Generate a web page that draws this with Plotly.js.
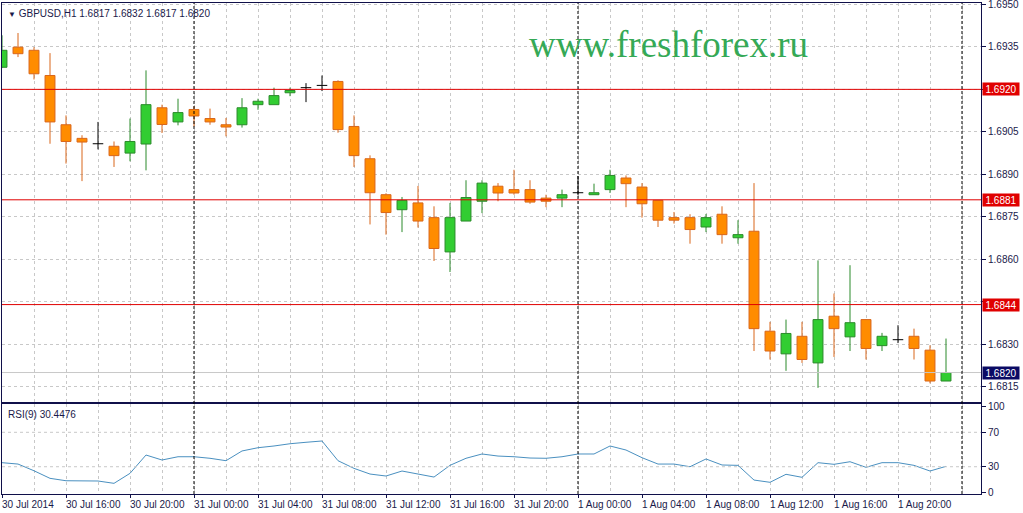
<!DOCTYPE html>
<html><head><meta charset="utf-8">
<script src="https://cdn.plot.ly/plotly-3.0.1.min.js"></script>
<style>html,body{margin:0;padding:0;background:#fff}#chart{width:1023px;height:513px}</style>
</head><body><div id="chart"></div>
<script>
const symbol = "GBPUSD,H1";
const openP  = [1.69278,1.69349,1.69338,1.69249,1.69075,1.69027,1.69008,1.68999,1.68975,1.69007,
                1.69135,1.69085,1.69129,1.69097,1.69075,1.69075,1.69146,1.69146,1.69188,1.69206,
                1.69214,1.69228,1.69069,1.68955,1.68828,1.68775,1.68799,1.68747,1.68626,1.68735,
                1.68805,1.68858,1.68846,1.68846,1.68816,1.68816,1.68835,1.68828,1.68846,1.68887,
                1.68855,1.68808,1.68747,1.68747,1.68714,1.68759,1.68676,1.68699,1.68346,1.68266,
                1.68328,1.68234,1.68399,1.68326,1.68387,1.68295,1.68316,1.68328,1.68279,1.68170];
const highP  = [1.69391,1.69399,1.69349,1.69328,1.69108,1.69038,1.69085,1.69016,1.69097,1.69267,
                1.69146,1.69167,1.69140,1.69132,1.69099,1.69169,1.69167,1.69206,1.69206,1.69222,
                1.69249,1.69232,1.69108,1.68967,1.68833,1.68820,1.68859,1.68787,1.68799,1.68879,
                1.68879,1.68869,1.68916,1.68879,1.68828,1.68846,1.68894,1.68867,1.68916,1.68896,
                1.68869,1.68808,1.68767,1.68759,1.68760,1.68787,1.68738,1.68869,1.68379,1.68387,
                1.68379,1.68596,1.68479,1.68579,1.68388,1.68340,1.68367,1.68355,1.68296,1.68320];
const lowP   = [1.69275,1.69314,1.69235,1.69008,1.68938,1.68876,1.68988,1.68926,1.68946,1.68914,
                1.69046,1.69073,1.69069,1.69075,1.69034,1.69065,1.69128,1.69146,1.69176,1.69155,
                1.69194,1.69047,1.68926,1.68723,1.68687,1.68696,1.68712,1.68594,1.68555,1.68735,
                1.68763,1.68805,1.68828,1.68796,1.68784,1.68784,1.68826,1.68828,1.68834,1.68784,
                1.68747,1.68714,1.68726,1.68655,1.68696,1.68655,1.68655,1.68276,1.68246,1.68206,
                1.68234,1.68146,1.68255,1.68276,1.68246,1.68276,1.68304,1.68246,1.68162,1.68170];
const closeP = [1.69338,1.69326,1.69255,1.69085,1.69016,1.69014,1.69008,1.68966,1.69016,1.69146,
                1.69076,1.69118,1.69106,1.69085,1.69067,1.69135,1.69158,1.69178,1.69196,1.69206,
                1.69214,1.69058,1.68966,1.68835,1.68765,1.68808,1.68735,1.68638,1.68747,1.68818,
                1.68869,1.68834,1.68834,1.68802,1.68805,1.68828,1.68835,1.68835,1.68896,1.68867,
                1.68796,1.68738,1.68738,1.68705,1.68747,1.68687,1.68687,1.68355,1.68276,1.68338,
                1.68246,1.68387,1.68355,1.68376,1.68285,1.68328,1.68316,1.68285,1.68170,1.68200];
const rsi9   = [34.7,33.1,25.3,16.5,13.7,13.4,13.4,10.7,22.3,43.6,
                37.8,41.6,41.6,39.8,37.0,48.3,52.1,54.1,56.7,58.4,
                59.9,37.0,28.1,21.5,19.2,25.0,21.5,18.0,31.6,39.8,
                44.8,42.4,41.6,40.1,39.8,41.6,44.8,44.8,54.1,49.4,
                40.5,33.1,33.1,30.0,39.0,32.0,31.6,14.5,11.9,21.2,
                17.7,34.7,32.8,35.8,29.3,34.7,34.7,31.6,25.0,30.4476];
const xLabelIdx = [0,4,8,12,16,20,24,28,32,36,40,44,48,52,56];
const xLabels = ["30 Jul 2014","30 Jul 16:00","30 Jul 20:00","31 Jul 00:00","31 Jul 04:00","31 Jul 08:00",
                 "31 Jul 12:00","31 Jul 16:00","31 Jul 20:00","1 Aug 00:00","1 Aug 04:00","1 Aug 08:00",
                 "1 Aug 12:00","1 Aug 16:00","1 Aug 20:00"];
const gridIdx = [2,6,10,14,18,22,26,30,34,38,42,46,50,54,58,60];
const daySeparators = [12,36,60];
const levels = [1.6920, 1.6881, 1.6844];
const priceTicks = [1.6815,1.6830,1.6845,1.6860,1.6875,1.6890,1.6905,1.6920,1.6935,1.6950];
const rsiTicks = [0,30,70,100];
const rsiLevels = [30,70];
const rsiLabel = "RSI(9) 30.4476";

const NAVY = '#10104a', GRID = '#c8c8c8';
const idx = openP.map((_, i) => i);
const n = openP.length;
const last = n - 1;
const bid = closeP[last];

const bull = {x:[], base:[], y:[]}, bear = {x:[], base:[], y:[]};
const bullW = {x:[], y:[]}, bearW = {x:[], y:[]}, doji = {x:[], y:[]};
const halfW = 0.33;
idx.forEach(i => {
  const o = openP[i], c = closeP[i], h = highP[i], l = lowP[i];
  if (o === c) {
    doji.x.push(i, i, null, i - halfW, i + halfW, null);
    doji.y.push(l, h, null, o, o, null);
    return;
  }
  const top = Math.max(o, c), bot = Math.min(o, c);
  const tgt = c > o ? bull : bear, w = c > o ? bullW : bearW;
  tgt.x.push(i); tgt.base.push(bot); tgt.y.push(top - bot);
  if (h > top) { w.x.push(i, i, null); w.y.push(top, h, null); }
  if (l < bot) { w.x.push(i, i, null); w.y.push(l, bot, null); }
});

const traces = [
  {type:'scatter', mode:'lines', x:bullW.x, y:bullW.y, line:{color:'#2a8a2a', width:1}, hoverinfo:'skip', xaxis:'x', yaxis:'y'},
  {type:'scatter', mode:'lines', x:bearW.x, y:bearW.y, line:{color:'#d9661a', width:1}, hoverinfo:'skip', xaxis:'x', yaxis:'y'},
  {type:'bar', x:bull.x, base:bull.base, y:bull.y, width:0.62, marker:{color:'#32cd32', line:{color:'#2a8a2a', width:1}}, xaxis:'x', yaxis:'y'},
  {type:'bar', x:bear.x, base:bear.base, y:bear.y, width:0.62, marker:{color:'#ff8c00', line:{color:'#d9661a', width:1}}, xaxis:'x', yaxis:'y'},
  {type:'scatter', mode:'lines', x:doji.x, y:doji.y, line:{color:'#000', width:1}, hoverinfo:'skip', xaxis:'x', yaxis:'y'},
  {type:'scatter', mode:'lines', x:idx, y:rsi9, line:{color:'#4a90c0', width:1}, xaxis:'x2', yaxis:'y2'}
];

const xr = [0, 979/16];
const baseX = {
  range: xr, showticklabels:false, showgrid:true, gridcolor:GRID, gridwidth:1, griddash:'3px,3px',
  tickvals: xLabelIdx, zeroline:false, showline:true, mirror:true, linecolor:NAVY, linewidth:1,
  minor:{tickvals:gridIdx, showgrid:true, gridcolor:GRID, gridwidth:1, griddash:'3px,3px', ticks:''},
  fixedrange:true
};
const levelFar = v => levels.concat([bid]).some(l => Math.abs(l - v) < 0.0002);
const layout = {
  width:1023, height:513,
  margin:{l:2, r:42, t:3, b:19, pad:0},
  paper_bgcolor:'#fff', plot_bgcolor:'#fff', showlegend:false, barmode:'overlay',
  font:{family:'Liberation Sans, Arial, sans-serif', size:10, color:'#1a1a4a'},
  xaxis: Object.assign({}, baseX, {domain:[0,1], anchor:'y', ticks:''}),
  xaxis2: Object.assign({}, baseX, {domain:[0,1], anchor:'y2', matches:'x', ticks:'outside', ticklen:3, tickcolor:NAVY}),
  yaxis:{domain:[0.1874,1], anchor:'x', side:'right', range:[1.68096,1.69505], tickvals:priceTicks,
         ticktext:priceTicks.map(v => levelFar(v) ? '' : v.toFixed(4)), ticklabeloverflow:'allow',
         ticks:'outside', ticklen:4, tickcolor:NAVY, showgrid:true, gridcolor:GRID, griddash:'3px,3px',
         zeroline:false, showline:true, mirror:true, linecolor:NAVY, linewidth:1, fixedrange:true},
  yaxis2:{domain:[0,0.1833], anchor:'x2', side:'right', range:[-1.7,102.9], tickvals:rsiTicks, ticklabeloverflow:'allow',
          ticks:'outside', ticklen:4, tickcolor:NAVY, showgrid:false, zeroline:false,
          showline:true, mirror:true, linecolor:NAVY, linewidth:1, fixedrange:true},
  shapes: [], annotations: []
};
levels.forEach(v => layout.shapes.push({type:'line', xref:'x domain', x0:0, x1:1, yref:'y', y0:v, y1:v, line:{color:'#e00000', width:1}}));
layout.shapes.push({type:'line', xref:'x domain', x0:0, x1:1, yref:'y', y0:bid, y1:bid, line:{color:'#c8c8c8', width:1}});
rsiLevels.forEach(v => layout.shapes.push({type:'line', xref:'x2 domain', x0:0, x1:1, yref:'y2', y0:v, y1:v, line:{color:GRID, width:1, dash:'3px,3px'}}));
daySeparators.forEach(v => layout.shapes.push({type:'line', xref:'x', x0:v, x1:v, yref:'paper', y0:0, y1:1, line:{color:'#000', width:1, dash:'3px,2px'}}));

xLabelIdx.forEach((v, k) => layout.annotations.push({xref:'x2', x:v, yref:'paper', y:0, xanchor:'left', yanchor:'top',
  yshift:-3, xshift:-2, text:xLabels[k], showarrow:false, font:{size:10, color:'#1a1a4a'}}));
levels.forEach(v => layout.annotations.push({xref:'paper', x:1, xanchor:'left', xshift:1, yref:'y', y:v, yanchor:'middle',
  text:v.toFixed(4), showarrow:false, bgcolor:'#e00000', width:34, height:10, borderpad:1, font:{size:10, color:'#fff'}}));
layout.annotations.push({xref:'paper', x:1, xanchor:'left', xshift:1, yref:'y', y:bid, yanchor:'middle',
  text:bid.toFixed(4), showarrow:false, bgcolor:'#0a0a64', width:34, height:10, borderpad:1, font:{size:10, color:'#fff'}});
layout.annotations.push({xref:'paper', x:0, xanchor:'left', xshift:4, yref:'paper', y:1, yanchor:'top', yshift:-3,
  showarrow:false, font:{size:10, color:'#1a1a4a'},
  text:'<span style="font-size:8px">▼</span> ' + symbol + ' ' + [openP[last], highP[last], lowP[last], closeP[last]].map(v => v.toFixed(4)).join(' ')});
layout.annotations.push({xref:'paper', x:0, xanchor:'left', xshift:4, yref:'paper', y:0.1833, yanchor:'top', yshift:-3,
  showarrow:false, font:{size:10, color:'#1a1a4a'}, text:rsiLabel});
layout.annotations.push({xref:'paper', x:0.6805, xanchor:'center', yref:'paper', y:0.9196, yanchor:'middle', yshift:-2,
  showarrow:false, text:'www.freshforex.ru', font:{family:'Liberation Serif, Times New Roman, serif', size:37, color:'#35a956'}});

Plotly.newPlot('chart', traces, layout, {staticPlot:true, displayModeBar:false});
</script></body></html>
